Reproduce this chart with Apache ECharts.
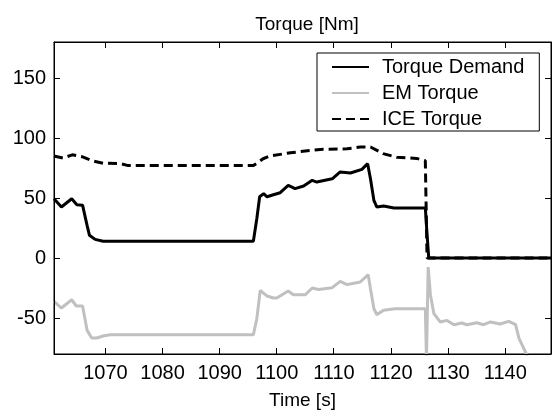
<!DOCTYPE html>
<html>
<head>
<meta charset="utf-8">
<script src="https://cdn.jsdelivr.net/npm/echarts@6/dist/echarts.min.js"></script>
<style>
html,body{margin:0;padding:0;background:#fff;}
#chart{width:553px;height:411px;}
</style>
</head>
<body>
<div id="chart"></div>
<script>
// Tick labels
const xTicks = [1070, 1080, 1090, 1100, 1110, 1120, 1130, 1140];
const yTicks = [-50, 0, 50, 100, 150];
const seriesNames = ['Torque Demand', 'EM Torque', 'ICE Torque'];

// Torque Demand
const tdTime = [1061, 1062.3, 1064.1, 1065, 1066, 1066.8, 1067.2, 1068.2, 1069.6, 1095.9, 1096.5, 1097, 1097.7, 1098.3, 1099.4, 1100.6, 1102, 1103.2, 1104.7, 1106.2, 1107, 1109.7, 1111.1, 1112.9, 1114.9, 1115.9, 1116.4, 1117, 1117.5, 1118.7, 1120.5, 1126, 1126.3, 1126.6, 1148];
const tdVal  = [49.4, 42.5, 49.4, 44.4, 44, 27, 19, 15.5, 14, 14, 32.7, 51, 53.6, 51, 52.7, 54.4, 60.5, 57.8, 60, 64.7, 63.3, 66, 71.7, 70.8, 73.9, 78.6, 66, 48, 42.5, 43.3, 41.7, 41.7, 20, 0, 0];

// EM Torque
const emTime = [1061, 1062.3, 1064.1, 1064.9, 1066, 1066.8, 1067.6, 1068.5, 1069.6, 1070.8, 1095.9, 1096.5, 1097.1, 1098.3, 1099.4, 1100, 1102, 1102.9, 1105, 1106.2, 1107.3, 1109.7, 1111.1, 1112.3, 1114.6, 1116, 1116.4, 1117, 1117.5, 1118.7, 1120.7, 1126, 1126.2, 1126.5, 1126.9, 1127.5, 1128.6, 1129.8, 1131, 1132.4, 1133.3, 1135, 1136.2, 1137.4, 1139.1, 1140.6, 1141.8, 1142.4, 1143, 1143.7, 1144];
const emVal  = [-36.2, -41.7, -34.8, -40, -40, -60.3, -66.7, -66.7, -65, -64, -64, -50.6, -27, -31.7, -33.3, -33.3, -27.5, -30.6, -30.6, -25, -26.2, -24.7, -19.5, -22.2, -20, -13.9, -25.6, -42.3, -47.2, -43.6, -42.3, -42.3, -85, -7.5, -31, -46.4, -53.3, -52, -55.6, -54.2, -55.6, -54, -55.6, -53.3, -55, -52.8, -55.6, -67, -73, -80, -85];

// ICE Torque
const iceTime = [1061, 1062.6, 1064.2, 1065.9, 1067.7, 1069.6, 1072.6, 1074, 1095.9, 1097.6, 1098.8, 1102.4, 1107.6, 1112.3, 1114.6, 1116.4, 1118.6, 1121, 1124.5, 1126, 1126.3, 1148];
const iceVal  = [85, 83.3, 86, 84.4, 81, 79, 78.6, 77, 77, 82.7, 85, 87.7, 90.5, 91, 92.5, 92.5, 87, 84, 83, 81, 0, 0];

// Axis ranges
const xRange = [1061, 1148];
const yRange = [-80, 180];

function pairs(t, v) { return t.map((x, i) => [x, v[i]]); }

const FONT = 'Liberation Sans, Arial, sans-serif';
const TICK_LEN = 6;
const chart = echarts.init(document.getElementById('chart'), null, {renderer: 'canvas'});

const lineCfg = {show: true, onZero: false, lineStyle: {color: '#000', width: 1}};
const fmt = v => String(v);
const tickStyle = {stroke: '#000', lineWidth: 1};
const snap = v => Math.round(v - 0.5) + 0.5;

// inward ticks on all four sides, placed through the axes' own scales
function xTickItem(params, api) {
  const v = api.value(0);
  const pb = api.coord([v, yRange[0]]);
  const pt = api.coord([v, yRange[1]]);
  const x = snap(pb[0]);
  return {type: 'group', silent: true, children: [
    {type: 'line', shape: {x1: x, y1: pb[1], x2: x, y2: pb[1] - TICK_LEN}, style: tickStyle},
    {type: 'line', shape: {x1: x, y1: pt[1], x2: x, y2: pt[1] + TICK_LEN}, style: tickStyle}
  ]};
}
function yTickItem(params, api) {
  const v = api.value(1);
  const pl = api.coord([xRange[0], v]);
  const pr = api.coord([xRange[1], v]);
  const y = snap(pl[1]);
  return {type: 'group', silent: true, children: [
    {type: 'line', shape: {x1: pl[0], y1: y, x2: pl[0] + TICK_LEN, y2: y}, style: tickStyle},
    {type: 'line', shape: {x1: pr[0], y1: y, x2: pr[0] - TICK_LEN, y2: y}, style: tickStyle}
  ]};
}

chart.setOption({
  animation: false,
  backgroundColor: '#fff',
  title: {
    text: 'Torque [Nm]',
    left: 302,
    top: 10,
    textAlign: 'center',
    textStyle: {fontFamily: FONT, fontSize: 19, fontWeight: 'normal', color: '#000'}
  },
  grid: {left: 54, right: 2, top: 42, bottom: 57, outerBoundsMode: 'none', containLabel: false,
    show: true, borderColor: '#000', borderWidth: 1, backgroundColor: 'transparent', z: 0},
  legend: {
    orient: 'vertical',
    left: 317,
    top: 53,
    data: seriesNames,
    backgroundColor: '#fff',
    borderColor: '#000',
    borderWidth: 1,
    borderRadius: 0,
    padding: [4, 15, 2, 14],
    itemWidth: 37,
    itemHeight: 14,
    itemGap: 6,
    itemStyle: {opacity: 0, borderWidth: 0},
    textStyle: {fontFamily: FONT, fontSize: 20, color: '#000', padding: [0, 0, 0, 8]},
    z: 10
  },
  xAxis: [
    {
      type: 'value', min: xRange[0], max: xRange[1], position: 'bottom', z: 5,
      name: 'Time [s]', nameLocation: 'middle', nameGap: 37,
      nameTextStyle: {fontFamily: FONT, fontSize: 19, color: '#000'},
      axisLine: lineCfg, axisTick: {show: false}, splitLine: {show: false},
      axisLabel: {customValues: xTicks, formatter: fmt, fontFamily: FONT, fontSize: 20, color: '#000', margin: 9}
    },
    {
      type: 'value', min: xRange[0], max: xRange[1], position: 'top', z: 5,
      axisLine: lineCfg, axisTick: {show: false}, splitLine: {show: false},
      axisLabel: {show: false}
    }
  ],
  yAxis: [
    {
      type: 'value', min: yRange[0], max: yRange[1], position: 'left', z: 5,
      axisLine: lineCfg, axisTick: {show: false}, splitLine: {show: false},
      axisLabel: {customValues: yTicks, formatter: fmt, fontFamily: FONT, fontSize: 20, color: '#000', margin: 8}
    },
    {
      type: 'value', min: yRange[0], max: yRange[1], position: 'right', z: 5,
      axisLine: lineCfg, axisTick: {show: false}, splitLine: {show: false},
      axisLabel: {show: false}
    }
  ],
  series: [
    {
      name: seriesNames[0], type: 'line', data: pairs(tdTime, tdVal), showSymbol: false, symbol: 'none',
      lineStyle: {color: '#000', width: 3}, itemStyle: {color: '#000'}, z: 3
    },
    {
      name: seriesNames[1], type: 'line', data: pairs(emTime, emVal), showSymbol: false, symbol: 'none',
      lineStyle: {color: '#c0c0c0', width: 3}, itemStyle: {color: '#c0c0c0'}, z: 2
    },
    {
      name: seriesNames[2], type: 'line', data: pairs(iceTime, iceVal), showSymbol: false, symbol: 'none',
      lineStyle: {color: '#000', width: 3, type: [9, 5]}, itemStyle: {color: '#000'}, z: 2
    },
    {
      type: 'custom', silent: true, z: 6, renderItem: xTickItem,
      data: xTicks.map(v => [v, yRange[0]]), encode: {x: 0, y: 1}
    },
    {
      type: 'custom', silent: true, z: 6, renderItem: yTickItem,
      data: yTicks.map(v => [xRange[0], v]), encode: {x: 0, y: 1}
    }
  ]
});
</script>
</body>
</html>
